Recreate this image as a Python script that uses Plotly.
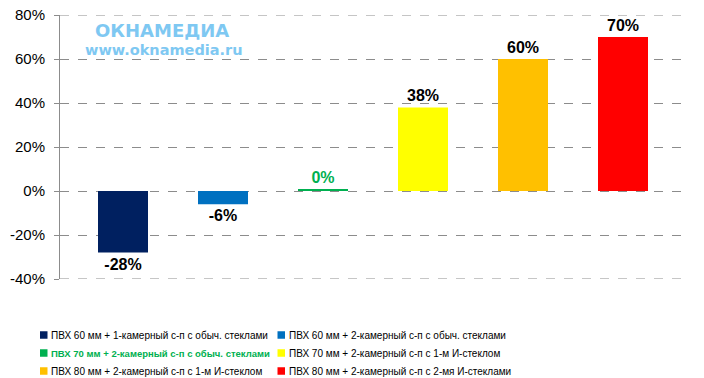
import plotly.graph_objects as go

names = [
    "ПВХ 60 мм + 1-камерный с-п с обыч. стеклами",
    "ПВХ 60 мм + 2-камерный с-п с обыч. стеклами",
    "ПВХ 70 мм + 2-камерный с-п с обыч. стеклами",
    "ПВХ 70 мм + 2-камерный с-п с 1-м И-стеклом",
    "ПВХ 80 мм + 2-камерный с-п с 1-м И-стеклом",
    "ПВХ 80 мм + 2-камерный с-п с 2-мя И-стеклами",
]
values = [-28, -6, 0.8, 38, 60, 70]
labels = ["-28%", "-6%", "0%", "38%", "60%", "70%"]
colors = ["#002060", "#0070C0", "#00B050", "#FFFF00", "#FFC000", "#FF0000"]
label_colors = ["#000000", "#000000", "#00B050", "#000000", "#000000", "#000000"]
y_ticks = [-40, -20, 0, 20, 40, 60, 80]
y_tick_text = ["-40%", "-20%", "0%", "20%", "40%", "60%", "80%"]

# plot area in page pixels (reference): x 60..688, y 15..279
PX0, PX1, PY0, PY1 = 60, 688, 15, 279


def px(x):
    return (x - PX0) / (PX1 - PX0)


def py(y):
    return (PY1 - y) / (PY1 - PY0)


fig = go.Figure()
for i, (n, v, lab, c, lc) in enumerate(zip(names, values, labels, colors, label_colors)):
    fig.add_trace(go.Bar(
        x=[i], y=[v], width=0.5, name=n, showlegend=False,
        marker=dict(color=c, line=dict(width=0)),
        text=[f"<b>{lab}</b>"], textposition="outside",
        textfont=dict(family="Liberation Sans, Arial", size=16, color=lc),
        cliponaxis=False,
    ))

shapes = []
# dashed gridlines at the range edges (plotly omits those at the plot border)
for yv in (y_ticks[0], y_ticks[-1]):
    shapes.append(dict(type="line", xref="paper", yref="y", x0=0, x1=1, y0=yv, y1=yv,
                       line=dict(color="#8C8C8C", width=1, dash="dash"), layer="below"))

annotations = [
    dict(text="<b>ОКНАМЕДИА</b>", xref="paper", yref="paper", x=px(93), y=py(31),
         xanchor="left", yanchor="middle", showarrow=False,
         font=dict(family="DejaVu Sans", size=18, color="#7EC8F2")),
    dict(text="<b>www.oknamedia.ru</b>", xref="paper", yref="paper", x=px(83), y=py(50),
         xanchor="left", yanchor="middle", showarrow=False,
         font=dict(family="DejaVu Sans", size=14.5, color="#7EC8F2")),
]

# manual legend (3 rows x 2 columns)
col_x = [40, 277.5]
row_y = [335, 353, 371]
for i, (n, c) in enumerate(zip(names, colors)):
    cx = col_x[i % 2]
    cy = row_y[i // 2]
    shapes.append(dict(type="rect", xref="paper", yref="paper",
                       x0=px(cx), x1=px(cx + 7.5), y0=py(cy + 3.75), y1=py(cy - 3.75),
                       fillcolor=c, line=dict(width=0)))
    txt = n if i != 2 else f"<b>{n}</b>"
    tcol = "#000000" if i != 2 else "#00B050"
    tsize = 10 if i != 2 else 9.5
    annotations.append(dict(text=txt, xref="paper", yref="paper", x=px(cx + 9), y=py(cy),
                            xanchor="left", yanchor="middle", showarrow=False,
                            font=dict(family="Liberation Sans, Arial", size=tsize, color=tcol)))

fig.update_layout(
    width=704, height=378,
    margin=dict(l=PX0, r=704 - PX1, t=PY0, b=378 - PY1, autoexpand=False),
    paper_bgcolor="white", plot_bgcolor="white",
    barmode="overlay",
    font=dict(family="Liberation Sans, Arial", color="#000000"),
    showlegend=False,
    xaxis=dict(range=[-0.63, 5.65], showgrid=False, zeroline=False, showline=False,
               showticklabels=False, ticks=""),
    yaxis=dict(range=[-40, 80], tickvals=y_ticks, ticktext=y_tick_text,
               showgrid=True, gridcolor="#8C8C8C", griddash="dash", gridwidth=1,
               zeroline=False, showline=True, linecolor="#8C8C8C", linewidth=1,
               ticks="outside", ticklen=5, tickcolor="#8C8C8C",
               ticklabelstandoff=6, ticklabeloverflow="allow",
               tickfont=dict(family="Liberation Sans, Arial", size=15, color="#000000")),
    shapes=shapes,
    annotations=annotations,
)

fig.write_html("out.html", config={"displayModeBar": False},
               post_script="document.body.style.margin='0';document.body.style.overflow='hidden';")
